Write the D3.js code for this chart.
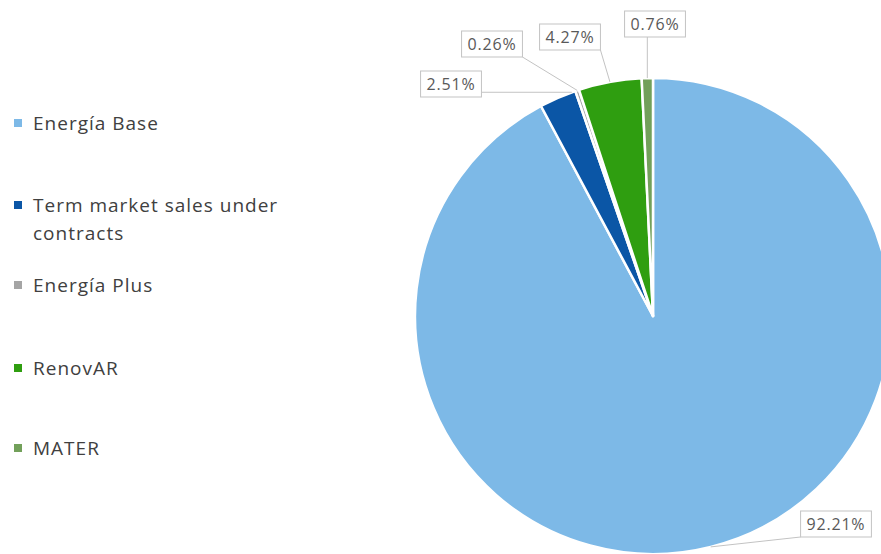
<!DOCTYPE html>
<html>
<head>
<meta charset="utf-8">
<script src="https://cdn.jsdelivr.net/npm/d3@7"></script>
<style>
  html, body { margin: 0; padding: 0; background: #fff; }
  svg { display: block; }
</style>
</head>
<body>
<svg id="chart" width="881" height="554"></svg>
<script>
// Sales mix by contract type (share of total, %)
const categories = ["Energía Base", "Term market sales under contracts", "Energía Plus", "RenovAR", "MATER"];
const legendLines = [["Energía Base"], ["Term market sales under", "contracts"], ["Energía Plus"], ["RenovAR"], ["MATER"]];
const shares = [92.21, 2.51, 0.26, 4.27, 0.76];
const colors = ["#7db9e7", "#0b56a6", "#a5a5a5", "#2f9e10", "#72a05a"];

// Callout boxes: centre of each label and where on its slice the leader meets the rim (0 = start, 1 = end)
const calloutCentres = [[836, 524], [451, 84], [492, 44], [570, 37], [655, 24]];
const leaderAt = [0.5, 0.9, 0.5, 0.5, 0.5];

const svg = d3.select("#chart");
const cx = 653, cy = 316, radius = 238;

const pie = d3.pie().sort(null).value(d => d);
const arcs = pie(shares);
const arc = d3.arc().innerRadius(0).outerRadius(radius);

const g = svg.append("g").attr("transform", `translate(${cx},${cy})`);
g.selectAll("path.slice")
  .data(arcs)
  .join("path")
  .attr("class", "slice")
  .attr("d", arc)
  .attr("fill", (d, i) => colors[i])
  .attr("stroke", "#ffffff")
  .attr("stroke-width", 2.5)
  .attr("stroke-linejoin", "round");

// Percentage callouts with leader lines
const fmt = v => v.toFixed(2) + "%";
const labelFont = "'Open Sans', sans-serif";
arcs.forEach((d, i) => {
  const [lx, ly] = calloutCentres[i];
  const text = svg.append("text")
    .attr("x", lx).attr("y", ly)
    .attr("text-anchor", "middle")
    .attr("dominant-baseline", "central")
    .attr("font-family", labelFont)
    .attr("font-size", 16)
    .attr("letter-spacing", 0.8)
    .attr("fill", "#595959")
    .text(fmt(shares[i]));
  const bb = text.node().getBBox();
  const padX = 6, h = 26;
  const bx0 = bb.x - padX, bx1 = bb.x + bb.width + padX;
  const by0 = ly - h / 2, by1 = ly + h / 2;

  const a = d.startAngle + (d.endAngle - d.startAngle) * leaderAt[i];
  const ax = cx + radius * Math.sin(a), ay = cy - radius * Math.cos(a);
  const sx = Math.max(bx0, Math.min(bx1, ax));
  const sy = Math.max(by0, Math.min(by1, ay));

  svg.insert("line", "text")
    .attr("x1", sx).attr("y1", sy).attr("x2", ax).attr("y2", ay)
    .attr("stroke", "#c3c3c3").attr("stroke-width", 1);
  svg.insert("rect", "text")
    .attr("x", bx0).attr("y", by0)
    .attr("width", bx1 - bx0).attr("height", h)
    .attr("fill", "#ffffff")
    .attr("stroke", "#c3c3c3").attr("stroke-width", 1);
});

// Legend
const legendRows = [123, 205, 285, 368, 448];
const lineGap = 28;
const legend = svg.append("g");
categories.forEach((c, i) => {
  const y = legendRows[i];
  legend.append("rect")
    .attr("x", 14).attr("y", y - 4).attr("width", 8).attr("height", 8)
    .attr("fill", colors[i]);
  legendLines[i].forEach((line, k) => {
    legend.append("text")
      .attr("x", 33).attr("y", y + k * lineGap)
      .attr("dominant-baseline", "central")
      .attr("font-family", labelFont)
      .attr("font-size", 19)
      .attr("letter-spacing", 1)
      .attr("fill", "#404040")
      .text(line);
  });
});
</script>
</body>
</html>
